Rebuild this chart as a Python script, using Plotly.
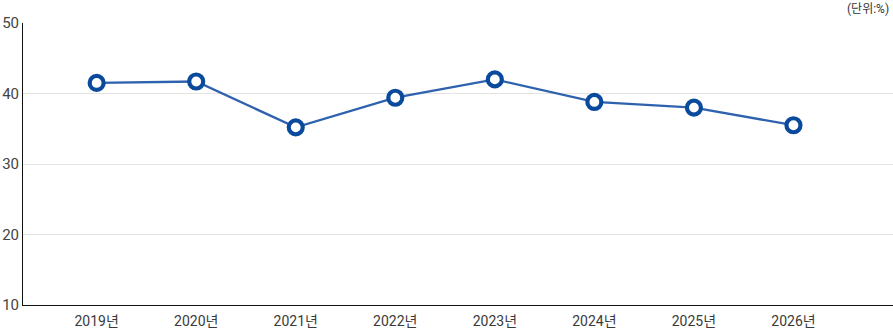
import plotly.graph_objects as go

years = ["2019년", "2020년", "2021년", "2022년", "2023년", "2024년", "2025년", "2026년"]
values = [41.5, 41.7, 35.2, 39.4, 42.0, 38.8, 38.0, 35.5]
y_ticks = [10, 20, 30, 40, 50]
unit_label = "(단위:%)"

font_family = "Roboto, Noto Sans CJK KR, sans-serif"

fig = go.Figure()
fig.add_trace(go.Scatter(
    x=list(range(len(years))),
    y=values,
    mode="lines+markers",
    line=dict(color="#2e62ae", width=2.3),
    marker=dict(size=14, color="white", line=dict(color="#0a4a9c", width=4.2)),
    hoverinfo="skip",
))

fig.update_layout(
    width=893, height=329,
    margin=dict(l=23, r=0, t=23, b=24),
    paper_bgcolor="white", plot_bgcolor="white",
    showlegend=False,
    font=dict(family=font_family, color="#333333"),
    xaxis=dict(
        range=[-0.74, 8.0],
        tickmode="array",
        tickvals=list(range(len(years))),
        ticktext=years,
        showgrid=False,
        showline=True, linecolor="#111111", linewidth=1,
        ticks="", tickfont=dict(size=14, color="#3a3a3a"),
        ticklabelstandoff=3,
        zeroline=False,
    ),
    yaxis=dict(
        range=[10, 50],
        tickvals=y_ticks,
        showgrid=True, gridcolor="#e3e3e3", gridwidth=1,
        showline=True, linecolor="#111111", linewidth=1,
        ticks="", tickfont=dict(size=15, color="#444444"),
        zeroline=False,
    ),
    annotations=[dict(
        text=unit_label, xref="paper", yref="paper",
        x=1.0, y=1.0, xanchor="right", yanchor="bottom", yshift=5, xshift=-2,
        showarrow=False, font=dict(size=12, color="#333333"),
    )],
)

fig.write_html("out.html")
